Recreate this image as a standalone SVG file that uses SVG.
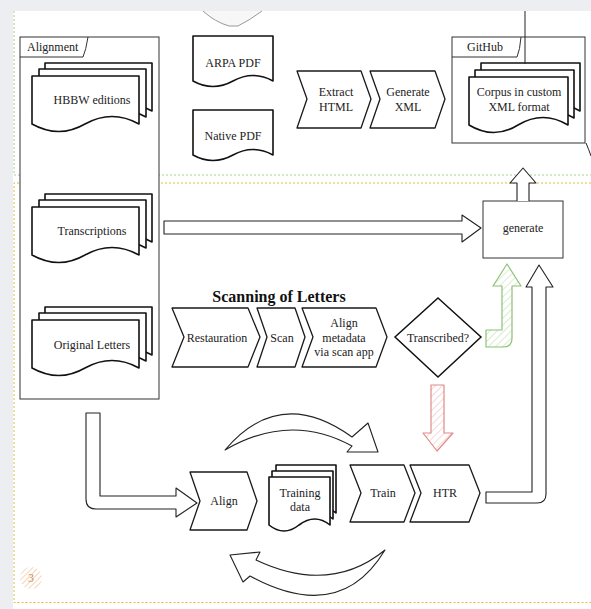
<svg xmlns="http://www.w3.org/2000/svg" width="591" height="609" viewBox="0 0 591 609" font-family="'Liberation Serif', 'DejaVu Serif', 'Times New Roman', serif">
<defs>
<style>
text{font-family:'Liberation Serif','DejaVu Serif','Times New Roman',serif}
.t{font-size:12px;fill:#222;text-anchor:middle}
.l{text-anchor:start}
.s{fill:#fff;stroke:#1a1a1a;stroke-width:1.3;stroke-linejoin:round}
.d{fill:#fff;stroke:#111;stroke-width:1.6;stroke-linejoin:round}
.c{fill:#fff;stroke:#333;stroke-width:1}
.a{fill:#fff;stroke:#222;stroke-width:1.1;stroke-linejoin:round}
</style>
<pattern id="hg" width="5" height="5" patternUnits="userSpaceOnUse" patternTransform="rotate(45)"><rect width="5" height="5" fill="#fff"/><line x1="0" y1="0" x2="0" y2="5" stroke="#cfe6c4" stroke-width="1.5"/></pattern>
<pattern id="hr" width="5" height="5" patternUnits="userSpaceOnUse" patternTransform="rotate(45)"><rect width="5" height="5" fill="#fff"/><line x1="0" y1="0" x2="0" y2="5" stroke="#f2cccc" stroke-width="1.5"/></pattern>
<pattern id="ho" width="4" height="4" patternUnits="userSpaceOnUse" patternTransform="rotate(45)"><rect width="4" height="4" fill="#fff"/><line x1="0" y1="0" x2="0" y2="4" stroke="#f5d6b8" stroke-width="2"/></pattern>
</defs>
<rect width="591" height="609" fill="#eceef1"/>
<rect x="13" y="11" width="578" height="598" fill="#fff"/>
<g id="lanes" fill="none" stroke-dasharray="2 2" stroke-width="1">
<path d="M14,11 V175 H591" stroke="#a9cf8f"/>
<path d="M591,183 H14 V602.5 H591" stroke="#e2bd3e"/>
</g>
<g id="top-shape"><path d="M203,11 Q215,22 229,26 L238,26 Q250,20 262,11" fill="#f7f7f7" stroke="#999" stroke-width="1"/></g>
<g id="alignment"><rect x="20" y="37" width="139" height="362" class="c"/><path d="M20,57 H83 Q86,50 88,37" fill="none" stroke="#333"/><text x="27" y="51" class="t l">Alignment</text></g>
<g id="github"><rect x="452" y="37" width="133" height="106" class="c"/><path d="M452,57 H517 Q520,50 521,37" fill="none" stroke="#333"/><text x="467" y="51" class="t l">GitHub</text></g>
<g id="hbbw">
<path class="d" d="M45,63 H152 V111 Q125,96 98,111 Q72,126 45,111 Z"/>
<path class="d" d="M39,69 H146 V117 Q119,102 92,117 Q66,132 39,117 Z"/>
<path class="d" d="M32,76 H139 V124 Q112,109 85,124 Q59,139 32,124 Z"/>
<text x="92" y="104" class="t">HBBW editions</text></g>
<g id="transcriptions">
<path class="d" d="M45,194 H152 V242 Q125,227 98,242 Q72,257 45,242 Z"/>
<path class="d" d="M39,200 H146 V248 Q119,233 92,248 Q66,263 39,248 Z"/>
<path class="d" d="M32,207 H139 V255 Q112,240 85,255 Q59,270 32,255 Z"/>
<text x="92" y="235" class="t">Transcriptions</text></g>
<g id="original-letters">
<path class="d" d="M45,307 H152 V355 Q125,340 98,355 Q72,370 45,355 Z"/>
<path class="d" d="M39,313 H146 V361 Q119,346 92,361 Q66,376 39,361 Z"/>
<path class="d" d="M32,320 H139 V368 Q112,353 85,368 Q59,383 32,368 Z"/>
<text x="92" y="349" class="t">Original Letters</text></g>
<g id="arpa"><path class="d" d="M193,36 H273 V81 Q253,70 233,81 Q213,92 193,81 Z"/><text x="233" y="67" class="t">ARPA PDF</text></g>
<g id="native"><path class="d" d="M193,110 H273 V155 Q253,144 233,155 Q213,166 193,155 Z"/><text x="233" y="140" class="t">Native PDF</text></g>
<g id="extract"><path class="s" d="M297,71 H361 L371,99 L361,128 H297 L307,99 Z"/><text x="336" y="96" class="t">Extract</text><text x="336" y="111" class="t">HTML</text></g>
<g id="genxml"><path class="s" d="M370,71 H435 L445,99 L435,128 H370 L380,99 Z"/><text x="408" y="96" class="t">Generate</text><text x="408" y="111" class="t">XML</text></g>
<g id="corpus">
<path class="d" d="M481,63 H580 V111 Q555,96 530,111 Q506,126 481,111 Z"/>
<path class="d" d="M475,70 H574 V118 Q549,103 524,118 Q500,133 475,118 Z"/>
<path class="d" d="M469,77 H568 V125 Q543,110 518,125 Q494,140 469,125 Z"/>
<text x="519" y="96" class="t">Corpus in custom</text><text x="519" y="111" class="t">XML format</text></g>
<g id="generate"><rect x="483" y="201" width="80" height="57" class="c" stroke-width="1.2"/><text x="523" y="232" class="t">generate</text></g>
<g id="title"><text x="279" y="302" class="t" style="font-size:16px;font-weight:bold;fill:#111">Scanning of Letters</text></g>
<g id="restauration"><path class="s" d="M172,308 H248 L260,337 L248,367 H172 L184,337 Z"/><text x="217" y="342" class="t">Restauration</text></g>
<g id="scan"><path class="s" d="M257,308 H295 L305,337 L295,367 H257 L267,337 Z"/><text x="282" y="342" class="t">Scan</text></g>
<g id="alignmeta"><path class="s" d="M302,308 H376 L387,337 L376,367 H302 L313,337 Z"/><text x="344" y="327" class="t">Align</text><text x="344" y="342" class="t">metadata</text><text x="344" y="356" class="t">via scan app</text></g>
<g id="transcribed"><path d="M438,298 L481,337 L438,377 L395,337 Z" fill="#fff" stroke="#111" stroke-width="1.5"/><text x="438" y="342" class="t">Transcribed?</text></g>
<g id="align"><path class="s" d="M190,472 H247 L257,501 L247,530 H190 L200,501 Z"/><text x="224" y="505" class="t">Align</text></g>
<g id="training">
<path class="d" d="M276,465 H336 V513 Q321,501 306,513 Q291,525 276,513 Z"/>
<path class="d" d="M272,471 H333 V519 Q318,507 302,519 Q287,531 272,519 Z"/>
<path class="d" d="M269,477 H330 V525 Q315,513 299,525 Q284,537 269,525 Z"/>
<text x="300" y="497" class="t">Training</text><text x="300" y="511" class="t">data</text></g>
<g id="train"><path class="s" d="M350,465 H404 L415,493 L404,522 H350 L361,493 Z"/><text x="383" y="497" class="t">Train</text></g>
<g id="htr"><path class="s" d="M410,465 H469 L480,493 L469,522 H410 L421,493 Z"/><text x="445" y="497" class="t">HTR</text></g>
<g id="badge"><circle cx="31" cy="578" r="11" fill="url(#ho)"/><text x="31" y="582" class="t" style="fill:#d08a50">3</text></g>
<g id="connectors">
<path d="M525,11 V64" fill="none" stroke="#222" stroke-width="1"/>
<path d="M586,143 Q589,150 591,156" fill="none" stroke="#222" stroke-width="1"/>
<path class="a" d="M164,221 H462 V215 L481,228 L462,242 V234 H164 Z"/>
<path class="a" d="M517,201 V183 H510 L523,168 L536,183 H529 V201"/>
<path class="a" d="M86,413 H100 V496 H176 V488 L197,503 L176,517 V509 H96 Q86,509 86,499 Z"/>
<path d="M486,330 H502 V286 H493 L507,264 L521,286 H512 V338 Q512,347 503,347 H486 Z" fill="url(#hg)" stroke="#8cc274" stroke-width="1.2" stroke-linejoin="round"/>
<path d="M431,385 H444 V433 H453 L437,451 L423,433 H431 Z" fill="url(#hr)" stroke="#e08a8a" stroke-width="1.2" stroke-linejoin="round"/>
<path class="a" d="M486,492 H532 V287 H526 L539,265 L553,287 H546 V494 Q546,503 537,503 H486 Z"/>
<path class="a" d="M225,450 Q280,385 352,437 L368,423 L378,452 L347,452 L352,446 Q290,412 225,450 Z"/>
<path class="a" d="M385,550 Q340,625 250,576 L243,582 L230,555 L260,552 L256,560 Q330,595 385,550 Z"/>
</g>
</svg>
